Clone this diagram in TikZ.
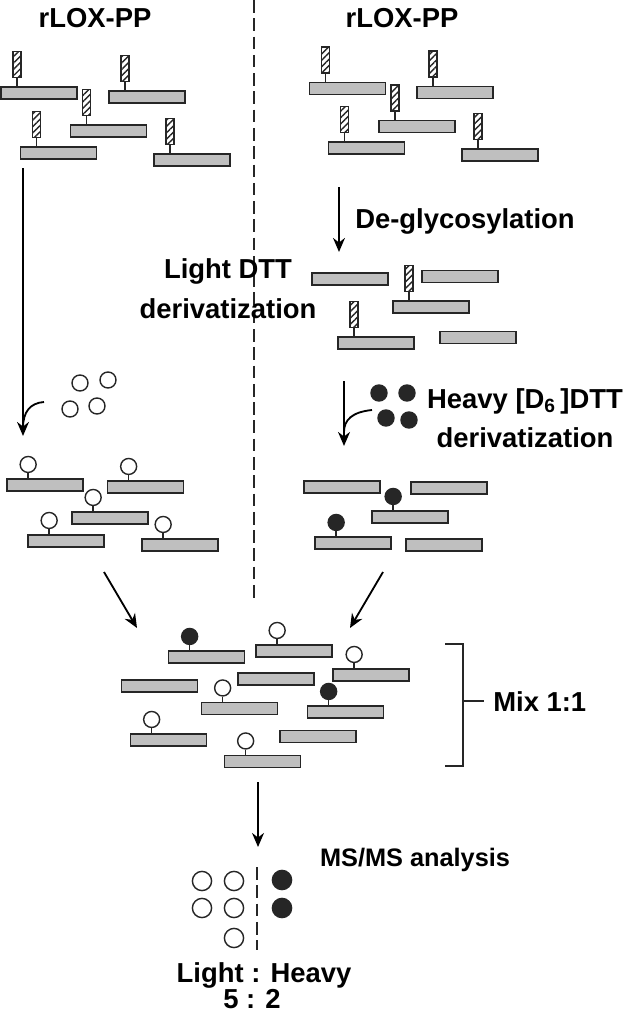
\documentclass[tikz,border=0pt]{standalone}
\usepackage{fontspec}
\setmainfont{Liberation Sans}
\usetikzlibrary{arrows.meta,patterns.meta,positioning}

\tikzset{
  pep/.style={rectangle, draw=black!85, fill=gray!50, line width=1.2pt, minimum width=1.9cm, minimum height=0.3cm, inner sep=0pt},
  glyc/.style={rectangle, draw=black!85, line width=1.1pt, pattern={Lines[angle=45, distance=3.2pt, line width=1pt]}, pattern color=black!85, minimum width=0.2cm, minimum height=0.65cm, inner sep=0pt, anchor=south},
  lt/.style={circle, draw=black!85, fill=white, line width=1pt, minimum size=0.4cm, inner sep=0pt},
  hv/.style={circle, draw=black!85, fill=black!85, line width=1pt, minimum size=0.4cm, inner sep=0pt},
  res/.style={minimum size=0.48cm},
  stalk/.style={line width=1pt, black!85},
  arr/.style={-{Stealth[length=10pt,width=8.5pt]}, line width=1.3pt},
  divider/.style={line width=0.9pt, black!85, dash pattern=on 9pt off 4pt},
  txt/.style={font=\fontsize{19.5}{23}\selectfont\bfseries, inner sep=0pt, anchor=base}
}

\begin{document}
\begin{tikzpicture}[x=0.025cm, y=-0.025cm]
  \useasboundingbox (0,0) rectangle (627,1012);

  % peptides
  \foreach \n/\x/\y in {a1/39/93, a2/147/97, a3/108.5/131, a4/58.5/153, a5/192/160,
                        b1/347.5/88.5, b2/455/92.5, b3/417/126.5, b4/366.5/148, b5/500/155,
                        c1/350/279, c2/460/276.5, c3/431/307, c4/376/343, c5/478/337.5,
                        d1/342/487, d2/449/488, d3/410/517, d4/353/543, d5/444/545,
                        e1/45/485, e2/145.5/487, e3/110/518, e4/66/541, e5/180/545,
                        m1/206.5/657, m2/294/651, m3/159.5/686, m4/276/679, m5/371/675,
                        m6/239.5/708.5, m7/345.5/712, m8/168.5/740, m9/318/736.5, m10/262.5/761.5}
    \node[pep] (\n) at (\x,\y) {};

  % glycans
  \foreach \b in {a1,a2,a3,a4,a5,b1,b2,b3,b4,b5,c3,c4} {
    \node[glyc] (g\b) at ([shift={(17,-8)}]\b.north west) {};
    \draw[stalk] (g\b.south) -- (g\b.south |- \b.north);
  }

  % light and heavy labels
  \foreach \b in {e1,e2,e3,e4,e5,m2,m5,m6,m8,m10} {
    \node[lt, anchor=south] (l\b) at ([shift={(22,-5)}]\b.north west) {};
    \draw[stalk] (l\b.south) -- (l\b.south |- \b.north);
  }
  \foreach \b in {d3,d4,m1,m7} {
    \node[hv, anchor=south] (h\b) at ([shift={(22,-5)}]\b.north west) {};
    \draw[stalk] (h\b.south) -- (h\b.south |- \b.north);
  }

  % reagents
  \foreach \n/\x/\y in {r1/80/383, r2/108/380, r3/70/409, r4/97/406}
    \node[lt] (\n) at (\x,\y) {};
  \foreach \n/\x/\y in {s1/379/393, s2/407/393, s3/386/418, s4/409/420}
    \node[hv] (\n) at (\x,\y) {};

  % result
  \foreach \n/\x/\y in {p1/202/881, p2/234/881, p3/202/908, p4/234/908, p5/234/938}
    \node[lt, res] (\n) at (\x,\y) {};
  \foreach \n/\x/\y in {q1/282/880, q2/282/908}
    \node[hv, res] (\n) at (\x,\y) {};

  % arrows
  \coordinate (la1) at (23,168);   \coordinate (la2) at (23,436);
  \coordinate (lc1) at (44,402);   \coordinate (lc2) at (23,428);
  \coordinate (ra1) at (339,187);  \coordinate (ra2) at (339,252);
  \coordinate (ha1) at (344,381);  \coordinate (ha2) at (344,446);
  \coordinate (hc1) at (372,410);  \coordinate (hc2) at (344,432);
  \coordinate (ml1) at (104,572);  \coordinate (ml2) at (137,628);
  \coordinate (mr1) at (383,572);  \coordinate (mr2) at (350,628);
  \coordinate (ba1) at (258,782);  \coordinate (ba2) at (258,847);

  \draw[arr] (la1) -- (la2);
  \draw[line width=1.3pt] (lc1) .. controls (30,403) and (23,412) .. (lc2);
  \draw[arr] (ra1) -- (ra2);
  \draw[arr] (ha1) -- (ha2);
  \draw[line width=1.3pt] (hc1) .. controls (352,412) and (344,420) .. (hc2);
  \draw[arr] (ml1) -- (ml2);
  \draw[arr] (mr1) -- (mr2);
  \draw[arr] (ba1) -- (ba2);

  % dividers
  \coordinate (dv1) at (254,0);   \coordinate (dv2) at (254,602);
  \coordinate (dr1) at (257,867); \coordinate (dr2) at (257,950);
  \draw[divider] (dv1) -- (dv2);
  \draw[divider] (dr1) -- (dr2);

  % bracket
  \coordinate (bk1) at (445,644); \coordinate (bk2) at (445,766);
  \coordinate (bk3) at (463,701); \coordinate (bk4) at (484,701);
  \draw[stalk, line width=1.1pt] (bk1) -| (bk3) |- (bk2);
  \draw[stalk, line width=1.1pt] (bk3) -- (bk4);
  \node[txt, anchor=base west] (mix) at (493,711) {Mix 1:1};

  % labels
  \node[txt] (t1) at (95,28) {rLOX-PP};
  \node[txt] (t2) at (402,28) {rLOX-PP};
  \node[txt, anchor=base west] (deg) at (355,228) {De-glycosylation};
  \node[txt] (ld1) at (228,278) {Light DTT};
  \node[txt] (ld2) at (228,318) {derivatization};
  \node[txt] (hd1) at (525,408) {Heavy [D\textsubscript{6}\,]DTT};
  \node[txt] (hd2) at (525,447) {derivatization};
  \node[txt, font=\fontsize{18}{22}\selectfont\bfseries] (ms) at (415,866) {MS/MS analysis};
  \node[txt] (ratio) at (264,982) {Light : Heavy};
  \node[txt] (num) at (252,1008) {5 : 2};
\end{tikzpicture}
\end{document}
